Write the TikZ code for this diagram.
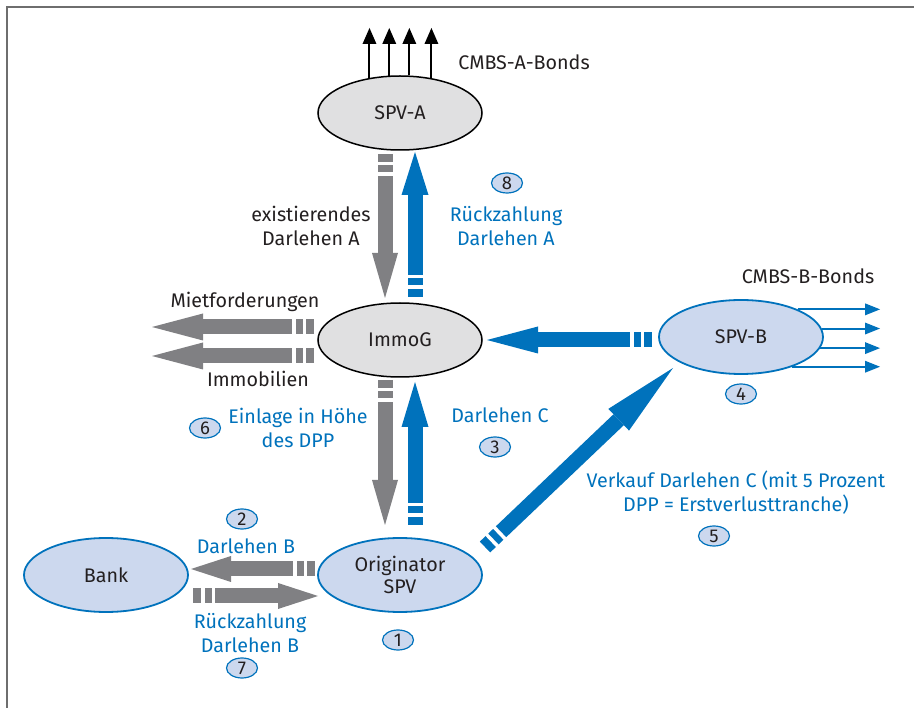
\documentclass[tikz,border=0pt]{standalone}
\usepackage{fontspec}
\setmainfont{Fira Sans}
\usetikzlibrary{shapes.geometric,arrows.meta,calc}
\definecolor{mblue}{RGB}{0,114,188}
\definecolor{mgray}{RGB}{128,128,131}
\definecolor{lblue}{RGB}{204,216,238}
\definecolor{lgray}{RGB}{224,224,225}
\definecolor{framegray}{RGB}{110,110,110}
\definecolor{txt}{RGB}{35,31,32}
\newcommand\fatarrow[5]{%
  \draw[#1, line width=15pt, -{Triangle[length=#4pt, width=#5pt, line width=0pt]}] (#2) -- (#3);
  \draw[white, line width=17pt, dash pattern=on 0pt off 8pt on 3.5pt off 7pt on 3.5pt off 3000pt] (#2) -- (#3);}
\begin{document}
\begin{tikzpicture}[x=1pt,y=-1pt,
  font=\fontsize{19.7}{24}\selectfont,
  ell/.style={ellipse, minimum width=164pt, minimum height=74pt, inner sep=0pt, align=center, text=txt},
  grayell/.style={ell, draw=black, line width=1.5pt, fill=lgray},
  blueell/.style={ell, draw=mblue, line width=1.8pt, fill=lblue},
  badge/.style={ellipse, draw=mblue, line width=1.2pt, fill=lblue, minimum width=31pt, minimum height=20pt, inner sep=0pt, text=txt, font=\fontsize{18.5}{18.5}\selectfont},
  blabel/.style={text=mblue, align=center, inner sep=0pt},
  klabel/.style={text=txt, align=center, inner sep=0pt},
  bondA/.style={draw=black, line width=2pt, -{Triangle[length=16pt, width=14pt, line width=0pt]}},
  bondB/.style={draw=mblue, line width=2pt, -{Triangle[length=15pt, width=12pt, line width=0pt]}}]
\useasboundingbox (0,0) rectangle (914,708);
\draw[framegray, line width=2pt] (7,708) -- (7,7) -- (914,7);

% nodes
\node[grayell] (spva) at (400,113) {SPV-A};
\node[grayell] (immog) at (400,340) {ImmoG};
\node[blueell] (spvb) at (741,337) {SPV-B};
\node[blueell] (orig) at (400,575) {Originator\\[-2pt]SPV};
\node[blueell] (bank) at (106,575) {Bank};

% bonds A
\coordinate (topA) at (0,28);
\foreach \a in {131.4,106.9,76.1,48.6}
  \draw[bondA] (spva.\a) -- (spva.\a |- topA);
\node[klabel] (cmbsa) at (524,62) {CMBS-A-Bonds};

% bonds B
\coordinate (rightB) at (880,0);
\foreach \a in {26.8,6.4,-8.0,-30.8}
  \draw[bondB] (spvb.\a) -- (spvb.\a -| rightB);
\node[klabel] (cmbsb) at (808,276) {CMBS-B-Bonds};

% fat arrows
\coordinate (a1s) at (385,154); \coordinate (a1e) at (385,298);
\fatarrow{mgray}{a1s}{a1e}{45}{26}
\coordinate (a2s) at (415,297); \coordinate (a2e) at (415,152);
\fatarrow{mblue}{a2s}{a2e}{43}{27}
\coordinate (a3s) at (385,380); \coordinate (a3e) at (385,525);
\fatarrow{mgray}{a3s}{a3e}{45}{26}
\coordinate (a4s) at (415,525); \coordinate (a4e) at (415,382);
\fatarrow{mblue}{a4s}{a4e}{45}{27}
\coordinate (a5s) at (314,327); \coordinate (a5e) at (152,327);
\fatarrow{mgray}{a5s}{a5e}{51}{27}
\coordinate (a6s) at (314,356); \coordinate (a6e) at (152,356);
\fatarrow{mgray}{a6s}{a6e}{51}{27}
\coordinate (a7s) at (652,340); \coordinate (a7e) at (487,340);
\fatarrow{mblue}{a7s}{a7e}{51}{27}
\coordinate (a8s) at (315,569); \coordinate (a8e) at (191,569);
\fatarrow{mgray}{a8s}{a8e}{40}{26}
\coordinate (a9s) at (193,596); \coordinate (a9e) at (318,596);
\fatarrow{mgray}{a9s}{a9e}{40}{26}
\coordinate (a10s) at (485,547); \coordinate (a10e) at (673,368);
\fatarrow{mblue}{a10s}{a10e}{75}{30}

% labels
\node[klabel] (lexA) at (311,226) {existierendes\\Darlehen A};
\node[blabel] (lrzA) at (506,226) {Rückzahlung\\Darlehen A};
\node[klabel] (lmiet) at (245,302) {Mietforderungen};
\node[klabel] (limmo) at (258,379) {Immobilien};
\node[blabel] (lein) at (298,428) {Einlage in Höhe\\des DPP};
\node[blabel] (ldc) at (500,415) {Darlehen C};
\node[blabel] (lverk) at (736,493) {Verkauf Darlehen C (mit 5 Prozent\\DPP = Erstverlusttranche)};
\node[blabel] (ldb) at (246,546) {Darlehen B};
\node[blabel] (lrzB) at (250,633) {Rückzahlung\\Darlehen B};

% badges
\node[badge] (b1) at (398,640) {1};
\node[badge] (b2) at (242,519) {2};
\node[badge] (b3) at (495,447) {3};
\node[badge] (b4) at (741,394) {4};
\node[badge] (b5) at (714,536) {5};
\node[badge] (b6) at (205,428) {6};
\node[badge] (b7) at (242,668) {7};
\node[badge] (b8) at (507,183) {8};
\end{tikzpicture}
\end{document}
